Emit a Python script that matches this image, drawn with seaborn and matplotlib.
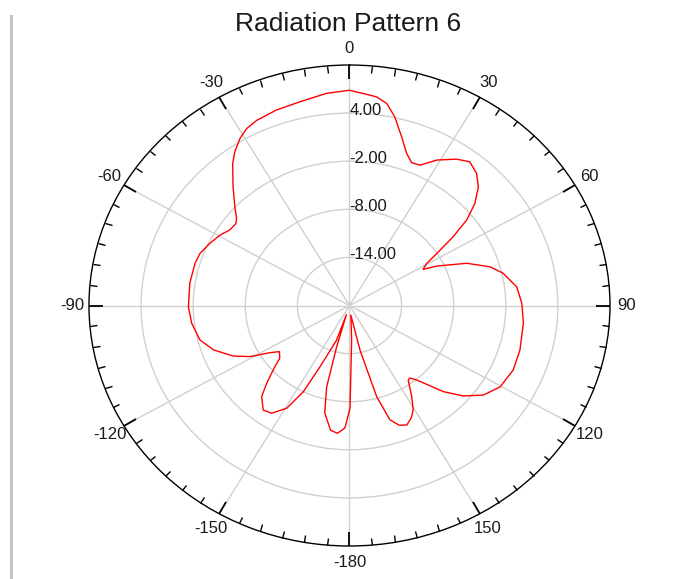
import numpy as np
import pandas as pd
import matplotlib
matplotlib.use("Agg")
import matplotlib.pyplot as plt
import matplotlib.transforms as mtransforms
from matplotlib.patches import Rectangle
import seaborn as sns

# ---- data -------------------------------------------------------------
title_text = "Radiation Pattern 6"

# pattern samples: angle (deg, clockwise from top) and gain (dB)
angle_deg = [
    -180.0, -178.0, -175.0, -172.0, -168.0, -165.5, -164.0, -162.5, -161.0,
    -156.0, -153.7, -150.6, -146.3, -142.7, -138.3, -135.5, -131.6, -129.4,
    -125.5, -122.7, -119.1, -115.2, -109.5, -104.0, -97.0, -90.5, -81.4,
    -73.5, -69.3, -64.2, -59.5, -55.6, -52.0, -50.1, -47.0, -42.1, -37.2,
    -34.5, -31.2, -28.2, -24.8, -19.0, -12.6, -5.7, 0.0, 5.1, 6.9, 9.7,
    12.5, 15.9, 19.1, 21.9, 24.9, 29.0, 34.1, 37.7, 41.6, 45.1, 48.6, 51.7,
    54.3, 57.1, 59.5, 62.0, 63.9, 68.7, 73.4, 77.2, 83.1, 89.2, 96.3, 105.8,
    113.1, 120.3, 125.9, 130.7, 134.8, 140.2, 142.5, 144.0, 147.8, 150.5,
    153.0, 156.1, 159.0, 161.9, 164.6, 167.7, 172.5, 176.7, 179.7, 180.0,
]
gain_db = [
    -6.9, -4.7, -4.0, -4.3, -6.3, -9.5, -14.6, -18.8, -15.4,
    -11.6, -8.0, -5.3, -3.85, -3.6, -4.8, -6.4, -8.5, -9.6,
    -10.1, -9.1, -6.9, -5.2, -3.4, -2.25, -1.7, -1.45, -1.4,
    -1.45, -1.6, -2.15, -2.7, -3.3, -3.4, -3.05, -1.95, 0.0, 2.25,
    3.3, 4.35, 5.05, 5.45, 5.8, 6.05, 6.6, 6.85, 6.35, 6.2, 5.55,
    4.1, 1.9, 0.1, -0.8, -0.7, 0.75, 2.05, 2.65, 2.05, 0.95, -0.75, -2.8,
    -5.3, -8.0, -9.7, -10.4, -8.8, -5.5, -3.1, -1.85, -0.6, -0.15, 0.15, 0.4,
    0.5, 0.1, -0.95, -2.7, -4.75, -7.9, -8.6, -8.5, -6.55, -5.1,
    -4.3, -3.7, -4.0, -5.0, -8.2, -14.3, -18.8, -15.7, -7.4, -6.9,
]

theta_ticks_deg = [0, 30, 60, 90, 120, 150, 180, 210, 240, 270, 300, 330]
theta_tick_labels = ["0", "30", "60", "90", "120", "150",
                     "-180", "-150", "-120", "-90", "-60", "-30"]
theta_minor_step = 5
r_ticks = [-14.0, -8.0, -2.0, 4.0]
r_limits = (-20.0, 10.0)

# ---- style ------------------------------------------------------------
sns.set_theme(style="white")
plt.rcParams["font.family"] = ["Liberation Sans", "DejaVu Sans"]

fig = plt.figure(figsize=(6.86, 5.79), dpi=100)
ax = fig.add_axes([0.1297, 0.057, 0.7595, 0.8307], projection="polar")
ax.set_aspect("auto")
ax.set_theta_zero_location("N")
ax.set_theta_direction(-1)

df = pd.DataFrame({"theta": np.deg2rad(angle_deg), "gain": gain_db})
sns.lineplot(data=df, x="theta", y="gain", sort=False, estimator=None,
             color="red", linewidth=1.0, ax=ax)
ax.set_xlabel("")
ax.set_ylabel("")
ax.set_ylim(*r_limits)

# angular ticks on the outer ring, pointing inwards
ax.set_xticks(np.deg2rad(theta_ticks_deg))
ax.set_xticklabels(theta_tick_labels, fontsize=12, color="#1a1a1a")
ax.set_xticks(np.deg2rad(np.arange(0, 360, theta_minor_step)), minor=True)
ax.tick_params(axis="x", which="both", bottom=False, top=True,
               labelbottom=True, labeltop=False)
ax.tick_params(axis="x", which="major", direction="in", length=10,
               width=1.3, color="black", pad=5)
ax.tick_params(axis="x", which="minor", direction="in", length=5,
               width=1.0, color="black")

# radial rings and their labels along the 0 degree spoke
ax.set_yticks(r_ticks)
ax.set_yticklabels([])
ax.tick_params(axis="y", which="both", left=False, right=False)
lab_tr = mtransforms.offset_copy(ax.transData, fig=fig, x=0, y=3, units="dots")
for r in r_ticks:
    ax.text(0.0, r, f"{r:.2f}", ha="left", va="center", fontsize=12,
            color="#1a1a1a", transform=lab_tr)

ax.grid(True, color="#d0d0d0", linewidth=1.0)
ax.spines["polar"].set_color("black")
ax.spines["polar"].set_linewidth(1.0)

# title
fig.text(348 / 686, 1 - 31 / 579, title_text, ha="center", va="baseline",
         fontsize=19, color="#1a1a1a")

# grey margin bar on the left edge
fig.add_artist(Rectangle((10 / 686, 0), 3 / 686, 1 - 15 / 579,
                         transform=fig.transFigure, color="#c4c4c4", lw=0))

fig.savefig("out.png", dpi=100)
